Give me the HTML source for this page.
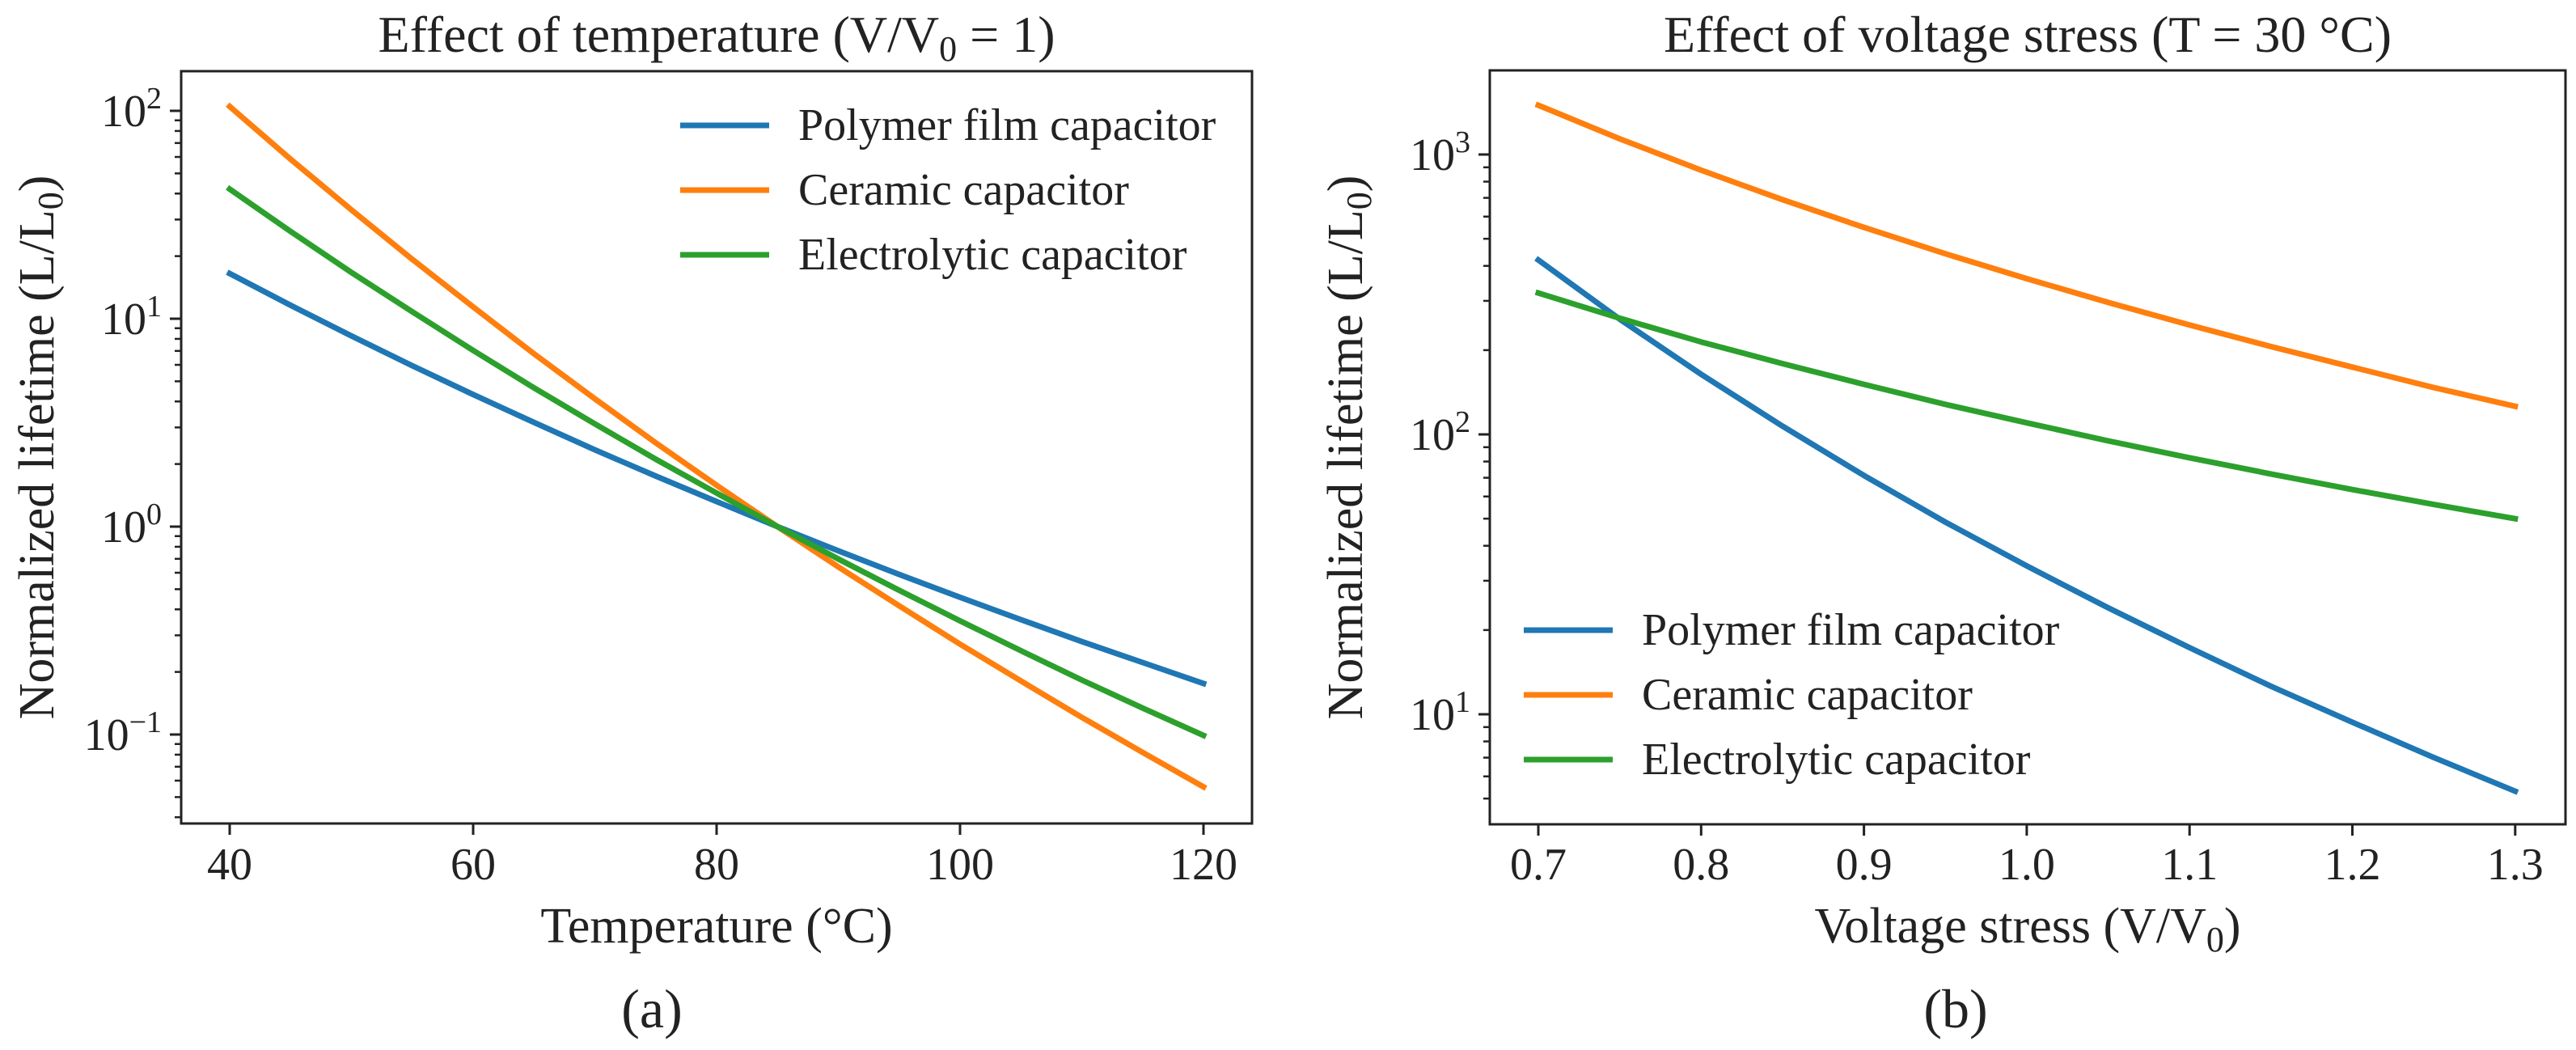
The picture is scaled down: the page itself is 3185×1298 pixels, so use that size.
<!DOCTYPE html>
<html><head><meta charset="utf-8"><style>
html,body{margin:0;padding:0;background:#fff;}
svg{display:block;}
text{font-family:"Liberation Serif",serif;fill:#222;}
</style></head><body>
<svg id="fig" width="3185" height="1298" viewBox="0 0 3185 1298" xmlns="http://www.w3.org/2000/svg"></svg>
<script>
// ---- Panel (a) data ----
const tempX = [40,45,50,55,60,65,70,75,80,85,90,95,100,105,110,115,120];
const polymerA = [16.5,11.6,8.26,5.94,4.32,3.17,2.34,1.75,1.32,1.0,0.765,0.589,0.457,0.357,0.280,0.222,0.176];
const ceramicA = [105,58.5,33.4,19.3,11.4,6.78,4.12,2.53,1.58,1.0,0.640,0.416,0.272,0.181,0.121,0.082,0.056];
const electroA = [42,26.3,16.7,10.8,7.04,4.65,3.12,2.11,1.45,1.0,0.699,0.494,0.352,0.253,0.183,0.134,0.099];
const tempTicks = [40,60,80,100,120];
const logTicksA = [-1,0,1,2];
// ---- Panel (b) data ----
const voltX = [0.7,0.75,0.8,0.85,0.9,0.95,1.0,1.05,1.1,1.15,1.2,1.25,1.3];
const polymerB = [420,258,164,107,71.3,48.6,33.9,24.0,17.3,12.6,9.37,7.01,5.31];
const ceramicB = [1500,1138,879,690,549,442,360,296,246,206,174,147,126];
const electroB = [320,260,214,179,151,128,110,94.8,82.5,72.2,63.5,56.2,50.0];
const voltTicks = ["0.7","0.8","0.9","1.0","1.1","1.2","1.3"];
const logTicksB = [1,2,3];
const seriesNames = ["Polymer film capacitor","Ceramic capacitor","Electrolytic capacitor"];
const colors = ["#1f77b4","#ff7f0e","#2ca02c"];

const NS="http://www.w3.org/2000/svg";
const svg=document.getElementById('fig');
function mk(tag,attrs,parent){const e=document.createElementNS(NS,tag);for(const k in attrs)e.setAttribute(k,attrs[k]);(parent||svg).appendChild(e);return e;}

function panel(cfg){
  const g=mk('g',{});
  
  
  const X=v=>cfg.x0px+(v-cfg.x0v)*cfg.xs;
  const Y=v=>cfg.decPx-(Math.log10(v)-cfg.decV)*cfg.dec;
  cfg.series.forEach((s,i)=>{
    const pts=cfg.xs_data.map((x,j)=>X(x).toFixed(1)+','+Y(s[j]).toFixed(1)).join(' ');
    const p=mk('polyline',{points:pts,fill:'none',stroke:colors[i],'stroke-width':7,'stroke-linejoin':'round','stroke-linecap':'square'},g);
    
    
  });
  const f=mk('rect',{x:cfg.L,y:cfg.T,width:cfg.R-cfg.L,height:cfg.B-cfg.T,fill:'none',stroke:'#222','stroke-width':3},g);
  
  
  cfg.xticks.forEach(t=>{
    const x=X(parseFloat(t));
    mk('line',{x1:x,x2:x,y1:cfg.B,y2:cfg.B+14,stroke:'#222','stroke-width':3},g);
    const tx=mk('text',{x:x,y:1087,'font-size':56,'text-anchor':'middle'},g);
    tx.textContent=t;
    
    
  });
  const lo=Math.floor(Math.log10(cfg.ymin)),hi=Math.ceil(Math.log10(cfg.ymax));
  for(let d=lo;d<=hi;d++){for(let m=1;m<10;m++){const v=m*Math.pow(10,d);if(v<cfg.ymin||v>cfg.ymax)continue;const y=Y(v);
    mk('line',{x1:cfg.L,x2:cfg.L-(m===1?14:8),y1:y,y2:y,stroke:'#222','stroke-width':m===1?3:2.5},g);}}
  cfg.yticks.forEach(d=>{
    const y=Y(Math.pow(10,d));
    const t=mk('text',{x:cfg.L-24,y:y+19,'font-size':56,'text-anchor':'end'},g);
    
    
    const a=mk('tspan',{},t);a.textContent='10';
    const b=mk('tspan',{dy:-22,'font-size':38},t);b.textContent=String(d).replace('-','\u2212');
  });
  const ti=mk('text',{x:(cfg.L+cfg.R)/2,y:64,'font-size':64,'text-anchor':'middle'},g);
  
  
  cfg.title(ti);
  const yl=mk('text',{x:0,y:0,'font-size':62,'text-anchor':'middle',transform:`translate(${cfg.ylx},${(cfg.T+cfg.B)/2}) rotate(-90)`},g);
  
  
  mk('tspan',{},yl).textContent='Normalized lifetime (L/L';
  mk('tspan',{dy:11,'font-size':44},yl).textContent='0';
  mk('tspan',{dy:-11},yl).textContent=')';
  const xl=mk('text',{x:(cfg.L+cfg.R)/2,y:1165,'font-size':62,'text-anchor':'middle'},g);
  
  
  cfg.xlabel(xl);
  const pl=mk('text',{x:cfg.letterX,y:1270,'font-size':68,'text-anchor':'middle'},g);
  pl.textContent=cfg.letter;
  
  
  const lg=mk('g',{},g);
  
  
  seriesNames.forEach((n,i)=>{
    const y=cfg.legY+i*80;
    mk('line',{x1:cfg.legX,x2:cfg.legX+110,y1:y,y2:y,stroke:colors[i],'stroke-width':7},lg);
    const t=mk('text',{x:cfg.legX+146,y:y+18,'font-size':56},lg);
    t.textContent=n;
    
    
  });
}

panel({name:'panel-a-temperature',L:224,R:1548,T:88,B:1018,x0v:40,x0px:284,xs:15.05,
  decV:0,decPx:651,dec:257,ymin:0.037,ymax:155,xs_data:tempX,series:[polymerA,ceramicA,electroA],
  xticks:tempTicks.map(String),yticks:logTicksA,ylx:66,letterX:806,letter:'(a)',legX:841,legY:155,
  title:t=>{mk('tspan',{},t).textContent='Effect of temperature (V/V';mk('tspan',{dy:11,'font-size':44},t).textContent='0';mk('tspan',{dy:-11},t).textContent=' = 1)';},
  xlabel:t=>{t.textContent='Temperature (\u00B0C)';}});

panel({name:'panel-b-voltage',L:1842,R:3172,T:87,B:1019,x0v:0.7,x0px:1902,xs:2013,
  decV:2,decPx:537,dec:346,ymin:4.1,ymax:1990,xs_data:voltX,series:[polymerB,ceramicB,electroB],
  xticks:voltTicks,yticks:logTicksB,ylx:1684,letterX:2418,letter:'(b)',legX:1884,legY:779,
  title:t=>{t.textContent='Effect of voltage stress (T = 30 \u00B0C)';},
  xlabel:t=>{mk('tspan',{},t).textContent='Voltage stress (V/V';mk('tspan',{dy:11,'font-size':44},t).textContent='0';mk('tspan',{dy:-11},t).textContent=')';}});
</script>
</body></html>
